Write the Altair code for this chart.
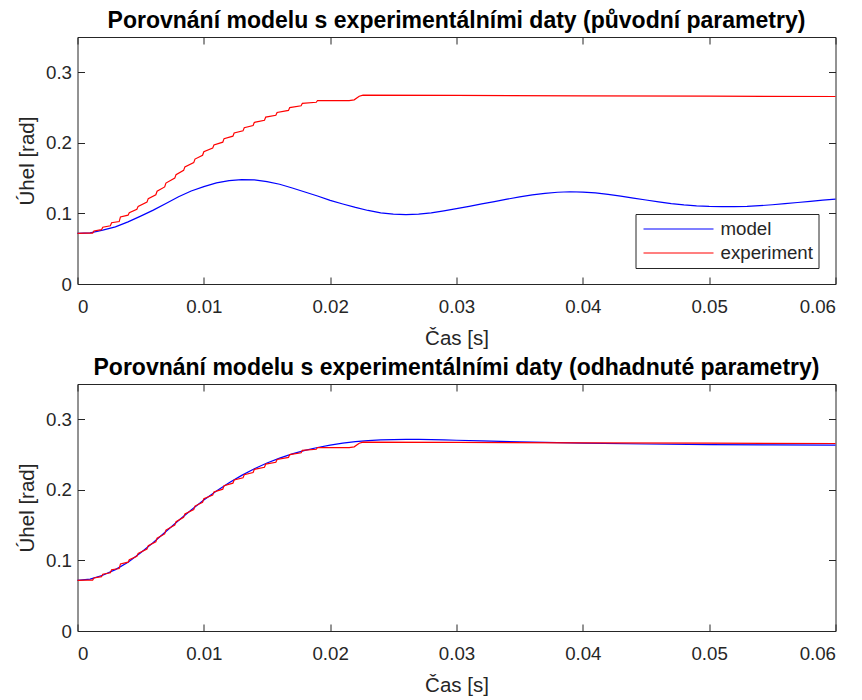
import altair as alt
import pandas as pd

# ---------------- data ----------------
series_names = ["model", "experiment"]
series_colors = ["#0000ff", "#ff0000"]

x_ticks = [0, 0.01, 0.02, 0.03, 0.04, 0.05, 0.06]
y_ticks = [0, 0.1, 0.2, 0.3]
x_domain = [0, 0.06]
y_domain = [0, 0.35]

title_top = "Porovnání modelu s experimentálními daty (původní parametry)"
title_bottom = "Porovnání modelu s experimentálními daty (odhadnuté parametry)"
x_title = "Čas [s]"
y_title = "Úhel [rad]"

# model with original parameters (top)
model_orig_t = [0.000, 0.001, 0.002, 0.003, 0.004, 0.005, 0.006, 0.007, 0.008, 0.009,
                0.010, 0.011, 0.012, 0.013, 0.014, 0.015, 0.016, 0.017, 0.018, 0.019,
                0.020, 0.021, 0.022, 0.023, 0.024, 0.025, 0.026, 0.027, 0.028, 0.029,
                0.030, 0.031, 0.032, 0.033, 0.034, 0.035, 0.036, 0.037, 0.038, 0.039,
                0.040, 0.041, 0.042, 0.043, 0.044, 0.045, 0.046, 0.047, 0.048, 0.049,
                0.050, 0.051, 0.052, 0.053, 0.054, 0.055, 0.056, 0.057, 0.058, 0.059,
                0.060]
model_orig_v = [0.0718, 0.0724, 0.0763, 0.0810, 0.0881, 0.0962, 0.1047, 0.1142, 0.1237, 0.1318,
                0.1380, 0.1432, 0.1465, 0.1478, 0.1475, 0.1451, 0.1413, 0.1361, 0.1304, 0.1247,
                0.1185, 0.1133, 0.1085, 0.1042, 0.1009, 0.0990, 0.0983, 0.0990, 0.1009, 0.1037,
                0.1068, 0.1100, 0.1135, 0.1168, 0.1202, 0.1234, 0.1262, 0.1285, 0.1300, 0.1307,
                0.1303, 0.1290, 0.1270, 0.1245, 0.1218, 0.1190, 0.1163, 0.1140, 0.1122, 0.1108,
                0.1100, 0.1096, 0.1096, 0.1100, 0.1110, 0.1123, 0.1138, 0.1155, 0.1172, 0.1188,
                0.1203]

# model with estimated parameters (bottom)
model_est_t = [0.000, 0.001, 0.002, 0.003, 0.004, 0.005, 0.006, 0.007, 0.008, 0.009,
               0.010, 0.011, 0.012, 0.013, 0.014, 0.015, 0.016, 0.017, 0.018, 0.019,
               0.020, 0.021, 0.022, 0.023, 0.024, 0.025, 0.026, 0.027, 0.028, 0.029,
               0.030, 0.032, 0.035, 0.040, 0.045, 0.050, 0.055, 0.060]
model_est_v = [0.0718, 0.0735, 0.0790, 0.0870, 0.0975, 0.1110, 0.1255, 0.1410, 0.1565, 0.1715,
               0.1855, 0.1985, 0.2100, 0.2205, 0.2300, 0.2380, 0.2450, 0.2510, 0.2560, 0.2600,
               0.2635, 0.2663, 0.2683, 0.2698, 0.2707, 0.2712, 0.2714, 0.2714, 0.2712, 0.2708,
               0.2703, 0.2693, 0.2680, 0.2662, 0.2650, 0.2642, 0.2637, 0.2635]

# experimental data (same in both panels, quantised steps)
exp_t = [0.0000, 0.0006, 0.0012, 0.0013, 0.0019, 0.0020, 0.0026, 0.0027, 0.0033, 0.0034,
         0.0040, 0.0041, 0.0047, 0.0048, 0.0055, 0.0056, 0.0062, 0.0063, 0.0069, 0.0070,
         0.0077, 0.0078, 0.0084, 0.0085, 0.0092, 0.0093, 0.0099, 0.0100, 0.0107, 0.0108,
         0.0115, 0.0116, 0.0123, 0.0124, 0.0131, 0.0132, 0.0139, 0.0140, 0.0148, 0.0149,
         0.0157, 0.0158, 0.0167, 0.0168, 0.0177, 0.0178, 0.0189, 0.0190, 0.0215, 0.0219,
         0.0223, 0.0226, 0.0300, 0.0400, 0.0500, 0.0600]
exp_v = [0.0718, 0.0720, 0.0722, 0.0752, 0.0770, 0.0805, 0.0825, 0.0868, 0.0885, 0.0950,
         0.0975, 0.1010, 0.1060, 0.1100, 0.1160, 0.1210, 0.1265, 0.1315, 0.1375, 0.1430,
         0.1500, 0.1550, 0.1610, 0.1660, 0.1720, 0.1770, 0.1825, 0.1875, 0.1925, 0.1970,
         0.2010, 0.2060, 0.2095, 0.2140, 0.2170, 0.2215, 0.2245, 0.2290, 0.2320, 0.2365,
         0.2390, 0.2430, 0.2460, 0.2500, 0.2525, 0.2560, 0.2575, 0.2600, 0.2598, 0.2610,
         0.2660, 0.2675, 0.2672, 0.2667, 0.2662, 0.2657]

# ---------------- styling ----------------
FONT = "Liberation Sans"
INK = "#262626"
TICK = 7
W, H = 758, 247


def frame(t, v, name):
    return pd.DataFrame({"t": t, "v": v, "series": name})


def panel(title, model_t, model_v):
    df = pd.concat([frame(model_t, model_v, "model"), frame(exp_t, exp_v, "experiment")],
                   ignore_index=True)
    legend = alt.Legend(
        title=None, orient="none", legendX=558, legendY=177,
        symbolType="stroke", symbolSize=4900, symbolStrokeWidth=1.2, symbolOffset=2,
        labelFont=FONT, labelFontSize=18.7, labelColor=INK, labelOffset=6,
        clipHeight=20, rowPadding=4, padding=5,
        strokeColor=INK, fillColor="white",
    )
    color = alt.Color("series:N", scale=alt.Scale(domain=series_names, range=series_colors),
                      legend=legend)
    xs = alt.Scale(domain=x_domain, nice=False, zero=False)
    ys = alt.Scale(domain=y_domain, nice=False, zero=False)
    common = dict(domain=False, grid=False, ticks=True, tickSize=TICK, offset=-TICK,
                  tickColor=INK, tickWidth=1, labelFont=FONT, labelFontSize=18.7,
                  labelColor=INK, titleFont=FONT, titleFontSize=20.5, titleColor=INK,
                  titleFontWeight="normal", minExtent=0)
    x_bottom = alt.Axis(values=x_ticks, format="~g", title=x_title, orient="bottom",
                        labelPadding=13, titlePadding=13, **common)
    y_left = alt.Axis(values=y_ticks, format="~g", title=y_title, orient="left",
                      labelPadding=6, titlePadding=8, **common)
    x_top = alt.Axis(values=x_ticks, title=None, orient="top", labels=False, **common)
    y_right = alt.Axis(values=y_ticks, title=None, orient="right", labels=False, **common)

    model_layer = alt.Chart(df).transform_filter(alt.datum.series == "model").mark_line(
        strokeWidth=1.2).encode(
        x=alt.X("t:Q", scale=xs, axis=x_bottom),
        y=alt.Y("v:Q", scale=ys, axis=y_left),
        color=color,
    )
    exp_layer = alt.Chart(df).transform_filter(alt.datum.series == "experiment").mark_line(
        strokeWidth=1.2).encode(
        x=alt.X("t:Q", scale=xs, axis=x_top),
        y=alt.Y("v:Q", scale=ys, axis=y_right),
        color=color,
    )
    return alt.layer(model_layer, exp_layer).resolve_axis(
        x="independent", y="independent").properties(
        width=W, height=H,
        title=alt.TitleParams(title, font=FONT, fontSize=23, fontWeight="bold",
                              color="black", anchor="middle", baseline="alphabetic",
                              offset=-14),
    )


chart = alt.vconcat(
    panel(title_top, model_orig_t, model_orig_v),
    panel(title_bottom, model_est_t, model_est_v),
    spacing=6,
).properties(
    padding={"left": 16.5, "top": 9, "right": 0, "bottom": 0},
    background="white",
).configure_view(stroke=INK, strokeWidth=1).configure_concat(spacing=6)

chart.save("out.html", embed_options={"renderer": "svg", "actions": False})
